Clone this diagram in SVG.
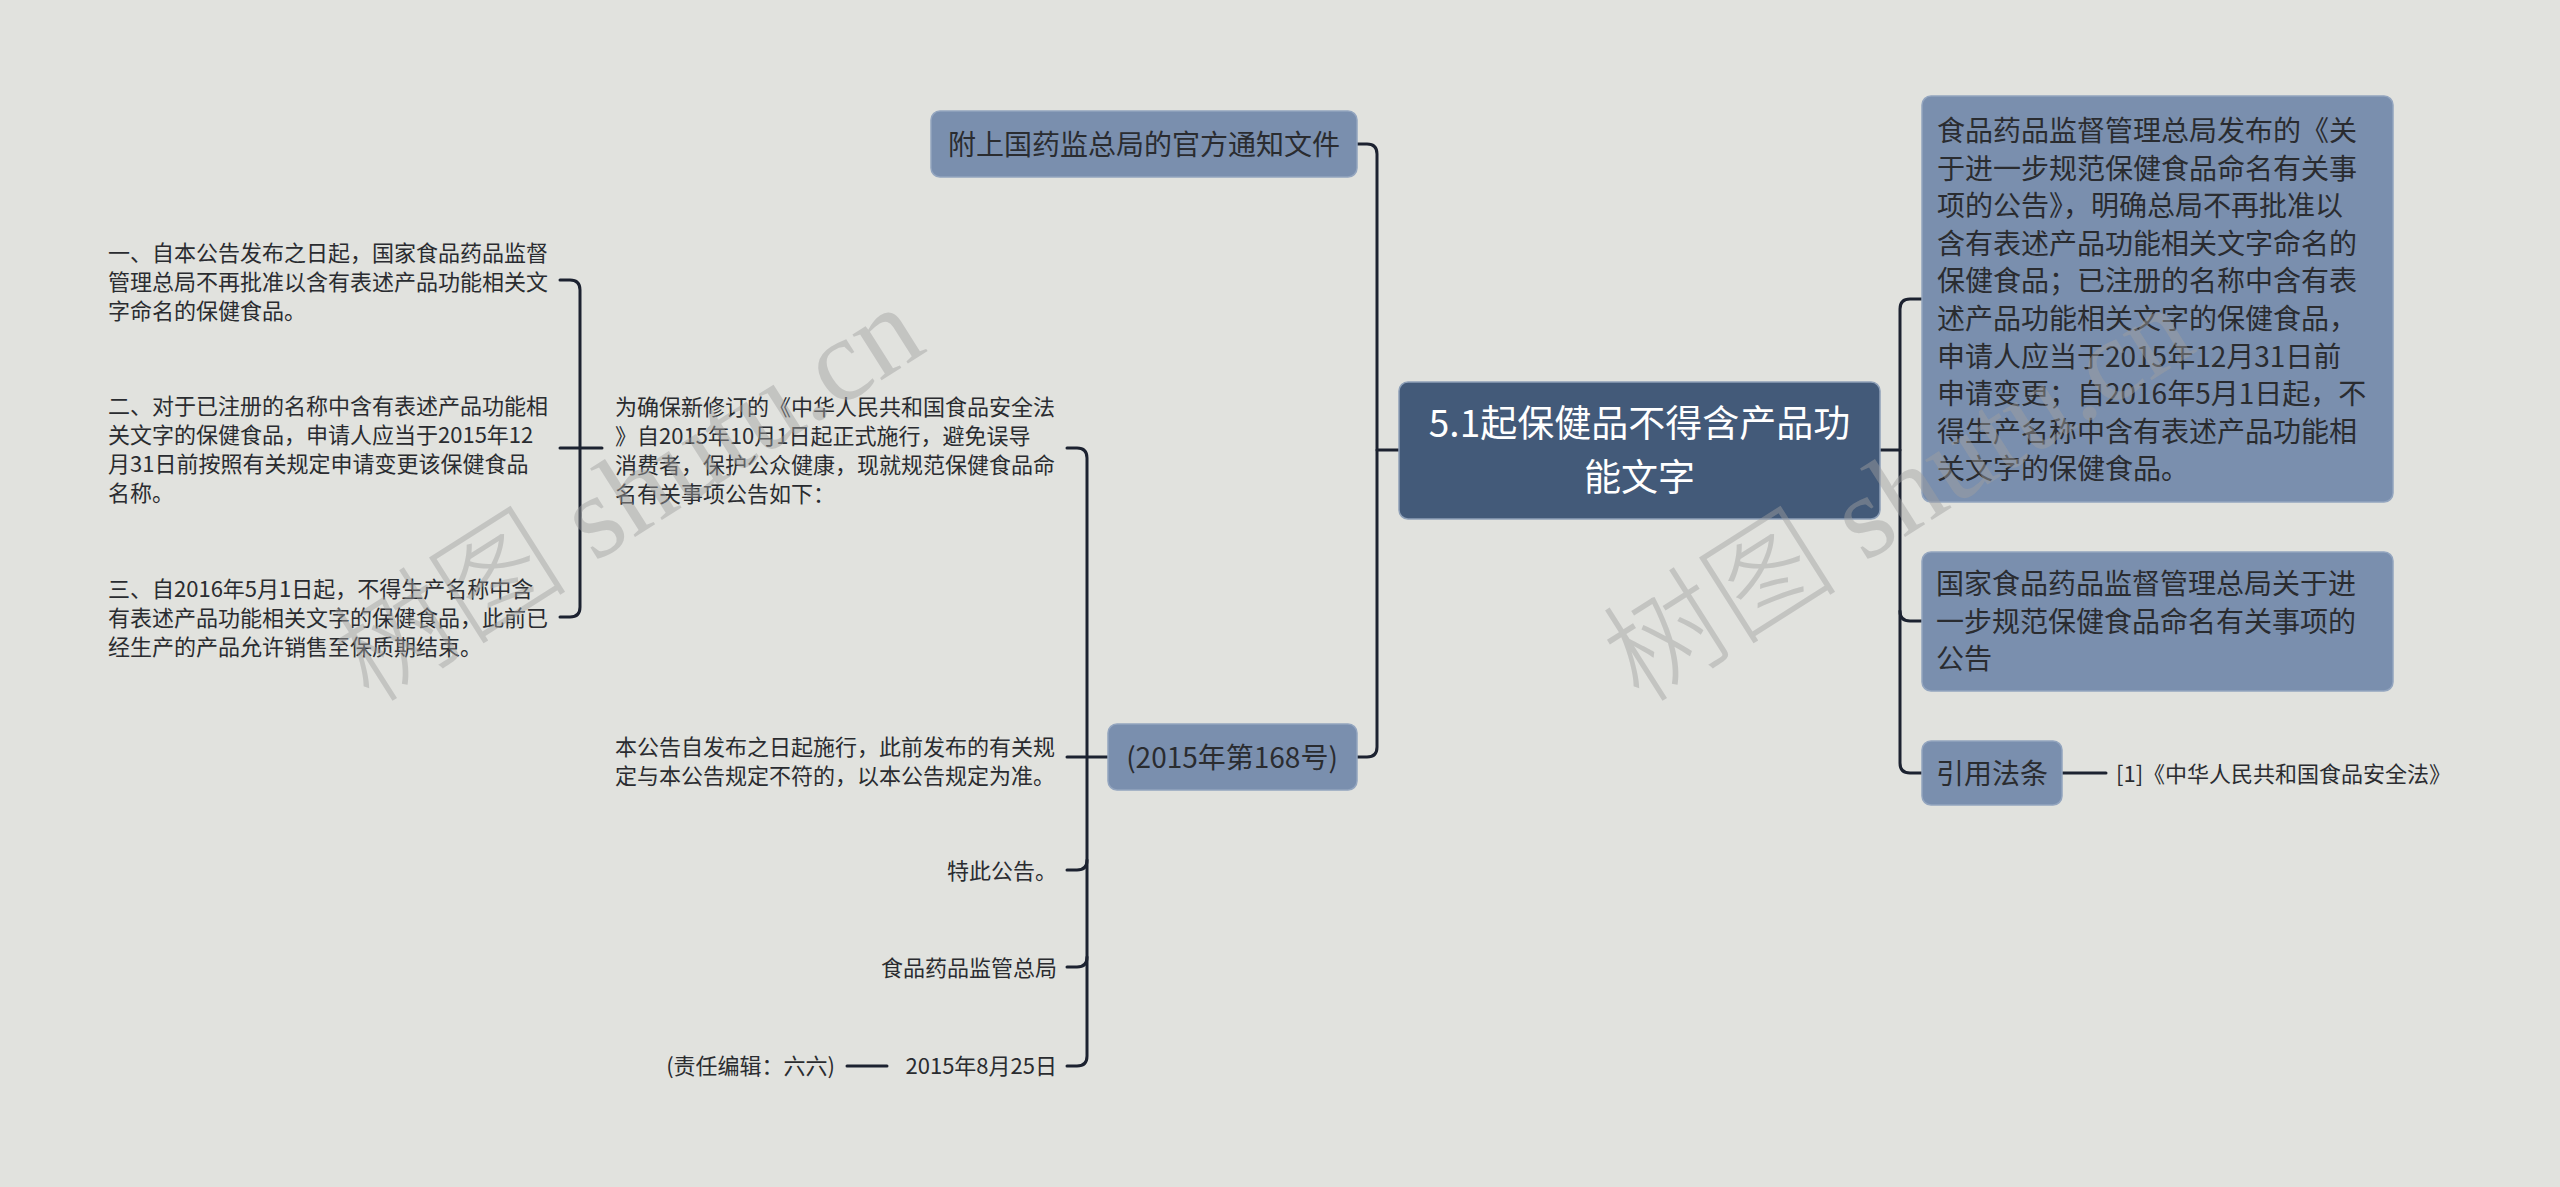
<svg xmlns="http://www.w3.org/2000/svg" width="2560" height="1187" viewBox="0 0 2560 1187">
<style>
.t{font-family:"Noto Sans CJK SC","Noto Sans",sans-serif;fill:#2a2c30}
.s22{font-size:22px}
.s28{font-size:28px}
.rt{font-family:"Noto Sans CJK SC","Noto Sans",sans-serif;font-size:37px;fill:#ffffff}
.box{fill:#7a8fae;stroke:#93a5bf;stroke-width:1.5}
.rootbox{fill:#435a79;stroke:#8ea0b8;stroke-width:1.5}
.link{fill:none;stroke:#1c2230;stroke-width:3;stroke-linecap:round}
.wm{font-family:"Liberation Serif","Noto Sans CJK SC",serif;font-size:118px;font-weight:300;fill:#a0a0a0;opacity:0.45}
</style>
<rect x="0" y="0" width="2560" height="1187" fill="#e1e2de"/>

<g id="connectors">
  <path class="link" d="M1879,450 H1900"/>
  <path class="link" d="M1922,299 H1910 Q1900,299 1900,309 V763 Q1900,773 1910,773 H1922"/>
  <path class="link" d="M1900,611 Q1900,621 1910,621 H1922"/>
  <path class="link" d="M2062,773 H2106"/>
  <path class="link" d="M1399,450 H1377"/>
  <path class="link" d="M1357,144 H1367 Q1377,144 1377,154 V747 Q1377,757 1367,757 H1357"/>
  <path class="link" d="M1108,757 H1067"/>
  <path class="link" d="M1067,448 H1077 Q1087,448 1087,458 V1056 Q1087,1066 1077,1066 H1067"/>
  <path class="link" d="M1067,870 H1077 Q1087,870 1087,860"/>
  <path class="link" d="M1067,967 H1077 Q1087,967 1087,957"/>
  <path class="link" d="M847,1066 H887"/>
  <path class="link" d="M602,448 H560"/>
  <path class="link" d="M560,280 H570 Q580,280 580,290 V607 Q580,617 570,617 H560"/>
</g>

<g id="root">
  <rect class="rootbox" x="1399" y="382" width="481" height="137" rx="9"/>
  <text class="rt" x="1639.5" y="437" text-anchor="middle">5.1起保健品不得含产品功</text>
  <text class="rt" x="1639.5" y="491" text-anchor="middle">能文字</text>
</g>

<g id="node-notice-desc">
  <rect class="box" x="1922" y="96" width="471" height="406" rx="9"/>
  <text class="t s28" x="1937">
    <tspan x="1937" y="141">食品药品监督管理总局发布的《关</tspan>
    <tspan x="1937" y="178.6">于进一步规范保健食品命名有关事</tspan>
    <tspan x="1937" y="216.2">项的公告》，明确总局不再批准以</tspan>
    <tspan x="1937" y="253.8">含有表述产品功能相关文字命名的</tspan>
    <tspan x="1937" y="291.4">保健食品；已注册的名称中含有表</tspan>
    <tspan x="1937" y="329">述产品功能相关文字的保健食品，</tspan>
    <tspan x="1937" y="366.6">申请人应当于2015年12月31日前</tspan>
    <tspan x="1937" y="404.2">申请变更；自2016年5月1日起，不</tspan>
    <tspan x="1937" y="441.8">得生产名称中含有表述产品功能相</tspan>
    <tspan x="1937" y="479.4">关文字的保健食品。</tspan>
  </text>
</g>

<g id="node-notice-title">
  <rect class="box" x="1922" y="552" width="471" height="139" rx="9"/>
  <text class="t s28">
    <tspan x="1936" y="594">国家食品药品监督管理总局关于进</tspan>
    <tspan x="1936" y="631.6">一步规范保健食品命名有关事项的</tspan>
    <tspan x="1936" y="669.2">公告</tspan>
  </text>
</g>

<g id="node-cite">
  <rect class="box" x="1922" y="741" width="140" height="64" rx="9"/>
  <text class="t s28" x="1936" y="784">引用法条</text>
</g>

<g id="node-cite-law">
  <text class="t s22" x="2116" y="782">[1]《中华人民共和国食品安全法》</text>
</g>

<g id="node-attach">
  <rect class="box" x="931" y="111" width="426" height="66" rx="9"/>
  <text class="t s28" x="1144" y="155" text-anchor="middle">附上国药监总局的官方通知文件</text>
</g>

<g id="node-no168">
  <rect class="box" x="1108" y="724" width="249" height="66" rx="9"/>
  <text class="t s28" x="1232" y="768" text-anchor="middle">(2015年第168号)</text>
</g>

<g id="node-intro">
  <text class="t s22">
    <tspan x="615" y="415">为确保新修订的《中华人民共和国食品安全法</tspan>
    <tspan x="615" y="444">》自2015年10月1日起正式施行，避免误导</tspan>
    <tspan x="615" y="473">消费者，保护公众健康，现就规范保健食品命</tspan>
    <tspan x="615" y="502">名有关事项公告如下：</tspan>
  </text>
</g>

<g id="node-item1">
  <text class="t s22">
    <tspan x="108" y="261">一、自本公告发布之日起，国家食品药品监督</tspan>
    <tspan x="108" y="290">管理总局不再批准以含有表述产品功能相关文</tspan>
    <tspan x="108" y="319">字命名的保健食品。</tspan>
  </text>
</g>

<g id="node-item2">
  <text class="t s22">
    <tspan x="108" y="414">二、对于已注册的名称中含有表述产品功能相</tspan>
    <tspan x="108" y="443">关文字的保健食品，申请人应当于2015年12</tspan>
    <tspan x="108" y="472">月31日前按照有关规定申请变更该保健食品</tspan>
    <tspan x="108" y="501">名称。</tspan>
  </text>
</g>

<g id="node-item3">
  <text class="t s22">
    <tspan x="108" y="597">三、自2016年5月1日起，不得生产名称中含</tspan>
    <tspan x="108" y="626">有表述产品功能相关文字的保健食品，此前已</tspan>
    <tspan x="108" y="655">经生产的产品允许销售至保质期结束。</tspan>
  </text>
</g>

<g id="node-effective">
  <text class="t s22">
    <tspan x="615" y="755">本公告自发布之日起施行，此前发布的有关规</tspan>
    <tspan x="615" y="784">定与本公告规定不符的，以本公告规定为准。</tspan>
  </text>
</g>

<g id="node-hereby">
  <text class="t s22" x="1057" y="879" text-anchor="end">特此公告。</text>
</g>

<g id="node-agency">
  <text class="t s22" x="1057" y="976" text-anchor="end">食品药品监管总局</text>
</g>

<g id="node-date">
  <text class="t s22" x="1057" y="1074" text-anchor="end">2015年8月25日</text>
</g>

<g id="node-editor">
  <text class="t s22" x="835" y="1074" text-anchor="end">(责任编辑：六六)</text>
</g>

<g id="watermarks">
  <text class="wm" transform="translate(370,705) rotate(-32.4)">树图 shutu.cn</text>
  <text class="wm" transform="translate(1640,705) rotate(-32.4)">树图 shutu.cn</text>
</g>
</svg>
